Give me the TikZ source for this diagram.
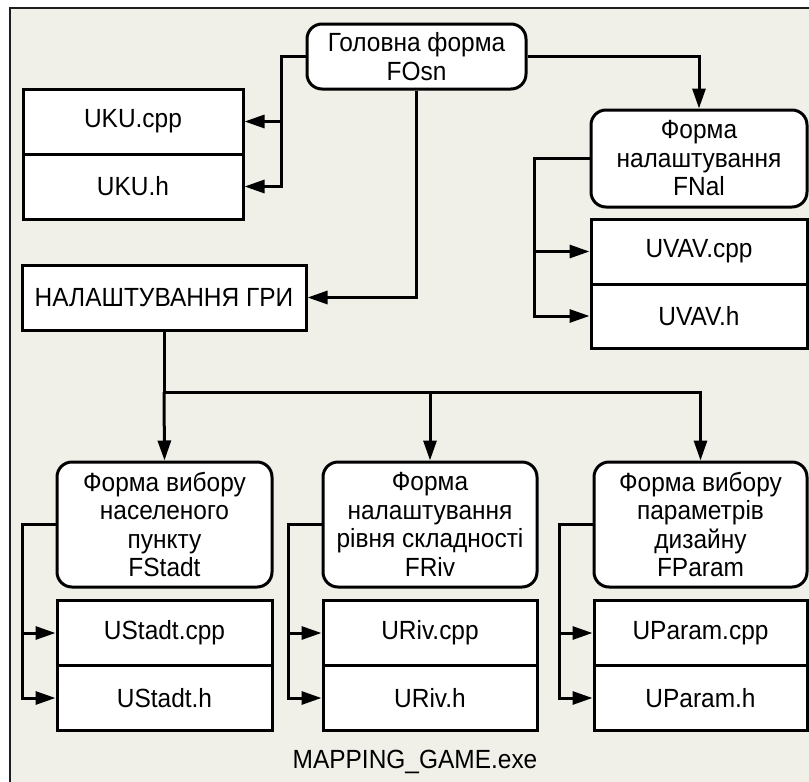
\documentclass[tikz,border=0pt]{standalone}
\usepackage{fontspec}
\setmainfont{Liberation Sans}[FakeStretch=0.93]
\usetikzlibrary{arrows.meta}
\definecolor{bgfill}{RGB}{240,240,233}
\definecolor{framecol}{RGB}{30,30,30}
\begin{document}
\begin{tikzpicture}[x=1pt,y=-1pt,
  every node/.style={font=\fontsize{26.3}{28.5}\selectfont, align=center, inner sep=0pt},
  cell/.style={draw=black, line width=3pt, fill=white, minimum height=65pt},
  form/.style={draw=black, line width=3pt, fill=white, rounded corners=15pt},
  conn/.style={draw=black, line width=3pt},
  arr/.style={conn, -{Triangle[length=20pt,width=13pt]}}
]
\useasboundingbox (0,0) rectangle (809,782);
\fill[white] (0,0) rectangle (809,782);
\fill[bgfill] (10,8) rectangle (809,782);
\draw[framecol, line width=2.5pt] (10,782) -- (10,8) -- (809,8);

% top area
\node[form, minimum width=219pt, minimum height=65pt] (main) at (416.5,56.5) {Головна форма\\FOsn};
\node[cell, minimum width=220pt] (ukucpp) at (133,121.5) {UKU.cpp};
\node[cell, minimum width=220pt] (ukuh) at (133,186.5) {UKU.h};
\node[cell, minimum width=284pt] (nal) at (164,297.5) {НАЛАШТУВАННЯ ГРИ};
\node[form, minimum width=216pt, minimum height=97pt] (fnal) at (699,158.5) {Форма\\налаштування\\FNal};
\node[cell, minimum width=216pt] (uvavcpp) at (699,251.5) {UVAV.cpp};
\node[cell, minimum width=216pt, minimum height=64pt] (uvavh) at (699,316) {UVAV.h};

% bottom row
\node[form, minimum width=215pt, minimum height=125pt] (fstadt) at (164.5,524.5) {Форма вибору\\населеного\\пункту\\FStadt};
\node[cell, minimum width=215pt] (ustadtcpp) at (164.5,633) {UStadt.cpp};
\node[cell, minimum width=215pt] (ustadth) at (164.5,698) {UStadt.h};

\node[form, minimum width=214pt, minimum height=125pt] (friv) at (430,524.5) {Форма\\налаштування\\рівня складності\\FRiv};
\node[cell, minimum width=214pt] (urivcpp) at (430,633) {URiv.cpp};
\node[cell, minimum width=214pt] (urivh) at (430,698) {URiv.h};

\node[form, minimum width=213pt, minimum height=125pt] (fparam) at (700.5,524.5) {Форма вибору\\параметрів\\дизайну\\FParam};
\node[cell, minimum width=213pt] (uparamcpp) at (700.5,633) {UParam.cpp};
\node[cell, minimum width=213pt] (uparamh) at (700.5,698) {UParam.h};

\node[anchor=base] (exe) at (415,768) {MAPPING\_GAME.exe};

% connectors: main form
\draw[arr] (main.west) -- (281,56.5) coordinate (j1) |- (ukuh.east);
\draw[arr] (j1 |- ukucpp.east) -- (ukucpp.east);
\draw[arr] (main.east) -| (fnal.north);
\draw[arr] (main.south) |- (nal.east);

% FNal
\draw[arr] (fnal.west) -- (534,158.5) coordinate (j2) |- (uvavh.west);
\draw[arr] (j2 |- uvavcpp.west) -- (uvavcpp.west);

% bus
\draw[conn] (nal.south) -- (164,392) coordinate (bus);
\draw[arr] (bus) -- (fstadt.north);
\draw[arr] (bus) -| (fparam.north);
\draw[arr] (bus -| friv.north) -- (friv.north);

% bottom forms
\draw[arr] (fstadt.west) -- (22,524.5) coordinate (j3) |- (ustadth.west);
\draw[arr] (j3 |- ustadtcpp.west) -- (ustadtcpp.west);
\draw[arr] (friv.west) -- (288,524.5) coordinate (j4) |- (urivh.west);
\draw[arr] (j4 |- urivcpp.west) -- (urivcpp.west);
\draw[arr] (fparam.west) -- (559,524.5) coordinate (j5) |- (uparamh.west);
\draw[arr] (j5 |- uparamcpp.west) -- (uparamcpp.west);
\end{tikzpicture}
\end{document}
